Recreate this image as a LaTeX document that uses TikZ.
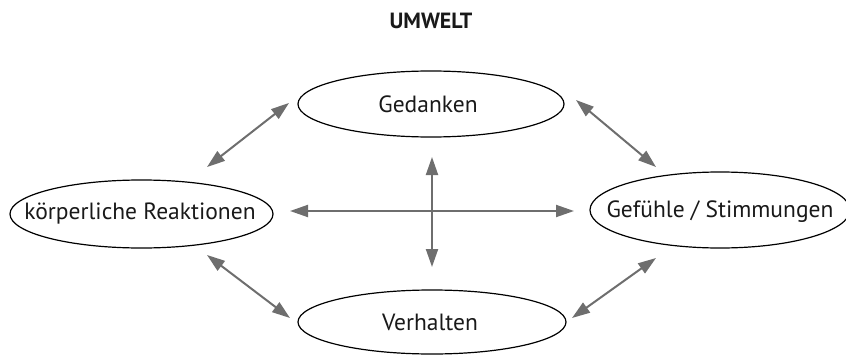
\documentclass[tikz,border=0pt]{standalone}
\usepackage{fontspec}
\setmainfont{PT Sans}
\usetikzlibrary{arrows.meta}
\definecolor{arrowgray}{HTML}{6E6E6E}
\begin{document}
\begin{tikzpicture}[x=1pt,y=-1pt,
  label/.style={font=\fontsize{23.5}{28}\selectfont,text=black!90},
  ring/.style={line width=1.2pt},
  link/.style={draw=arrowgray,line width=2pt,{Triangle[length=18pt,width=12pt]}-{Triangle[length=18pt,width=12pt]}}]
\useasboundingbox (0,0) rectangle (846,356);
\node[font=\bfseries\fontsize{22}{26}\selectfont,text=black!90] (title) at (431,21) {UMWELT};
% the four states as ellipses
\draw[ring] (431,104) ellipse [x radius=133, y radius=33];
\node[label] (ged) at (428,104) {Gedanken};
\draw[ring] (141.5,214) ellipse [x radius=131.5, y radius=34];
\node[label] (koe) at (140,214) {körperliche Reaktionen};
\draw[ring] (720,210) ellipse [x radius=130, y radius=38];
\node[label] (gef) at (720,212) {Gefühle / Stimmungen};
\draw[ring] (432,322) ellipse [x radius=134, y radius=32];
\node[label] (ver) at (430,322) {Verhalten};
% connector end points
\coordinate (a1) at (207,167); \coordinate (a2) at (289,103);
\coordinate (b1) at (576,100); \coordinate (b2) at (656,167);
\coordinate (c1) at (207,255); \coordinate (c2) at (290,318);
\coordinate (d1) at (656,258); \coordinate (d2) at (572,318);
\coordinate (h1) at (290,211); \coordinate (h2) at (574,211);
\coordinate (v1) at (432,157); \coordinate (v2) at (432,267);
\draw[link] (a1) -- (a2);
\draw[link] (b1) -- (b2);
\draw[link] (c1) -- (c2);
\draw[link] (d1) -- (d2);
\draw[link] (h1) -- (h2);
\draw[link] (v1) -- (v2);
\end{tikzpicture}
\end{document}
